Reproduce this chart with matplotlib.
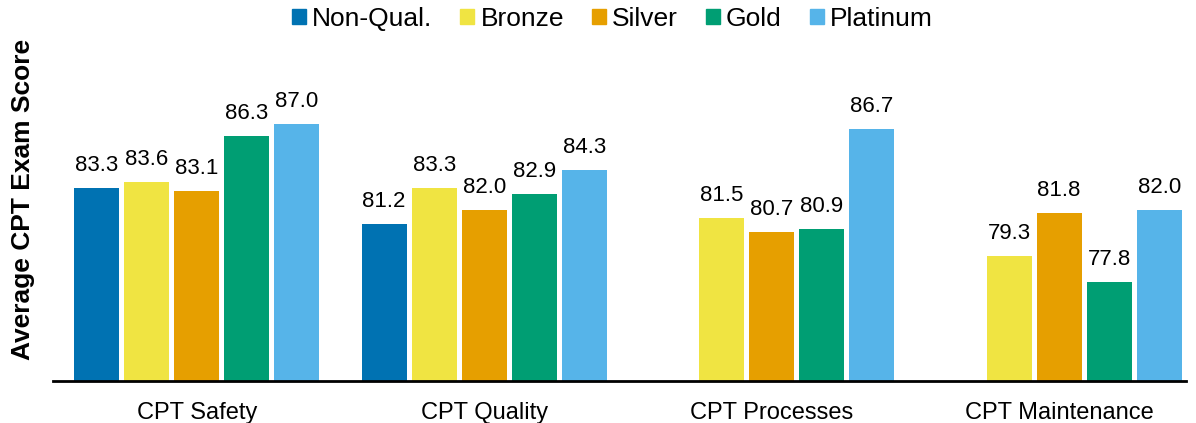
import numpy as np
import matplotlib.pyplot as plt
from matplotlib.patches import Patch

plt.rcParams['font.family'] = ['Liberation Sans', 'DejaVu Sans']

categories = ['CPT Safety', 'CPT Quality', 'CPT Processes', 'CPT Maintenance']
levels = ['Non-Qual.', 'Bronze', 'Silver', 'Gold', 'Platinum']
colors = ['#0072B2', '#F0E442', '#E69F00', '#009E73', '#56B4E9']

non_qual = [83.3, 81.2, np.nan, np.nan]
bronze = [83.6, 83.3, 81.5, 79.3]
silver = [83.1, 82.0, 80.7, 81.8]
gold = [86.3, 82.9, 80.9, 77.8]
platinum = [87.0, 84.3, 86.7, 82.0]

series = [non_qual, bronze, silver, gold, platinum]

fig = plt.figure(figsize=(11.96, 4.23), dpi=100)
ax = fig.add_axes([0.0443, 0.099, 0.947, 0.81])

x = np.arange(len(categories))
step = 0.174
width = 0.157
for i, vals in enumerate(series):
    pos = x + (i - 2) * step
    for p, v in zip(pos, vals):
        if np.isnan(v):
            continue
        ax.bar(p, v - 72, bottom=72, width=width, color=colors[i])
        ax.text(p, v + 0.7, f'{v:.1f}', ha='center', va='bottom', fontsize=16)

ax.set_ylim(72, 92)
ax.set_xlim(-0.5, 3.44)
ax.set_xticks(x)
ax.set_xticklabels(categories, fontsize=17)
ax.tick_params(axis='x', length=0, pad=15)
ax.set_yticks([])
for s in ['top', 'right', 'left']:
    ax.spines[s].set_visible(False)
ax.spines['bottom'].set_linewidth(2)
ax.set_ylabel('Average CPT Exam Score', fontsize=19, fontweight='bold')
ax.yaxis.set_label_coords(-0.016, 0.53)

handles = [Patch(color=c, label=l) for c, l in zip(colors, levels)]
fig.legend(handles=handles, loc='center', bbox_to_anchor=(0.512, 0.955), ncol=5,
           frameon=False, fontsize=19, handlelength=0.53, handleheight=0.53,
           handletextpad=0.23, columnspacing=1.06, borderaxespad=0)

fig.savefig('out.png', dpi=100)
